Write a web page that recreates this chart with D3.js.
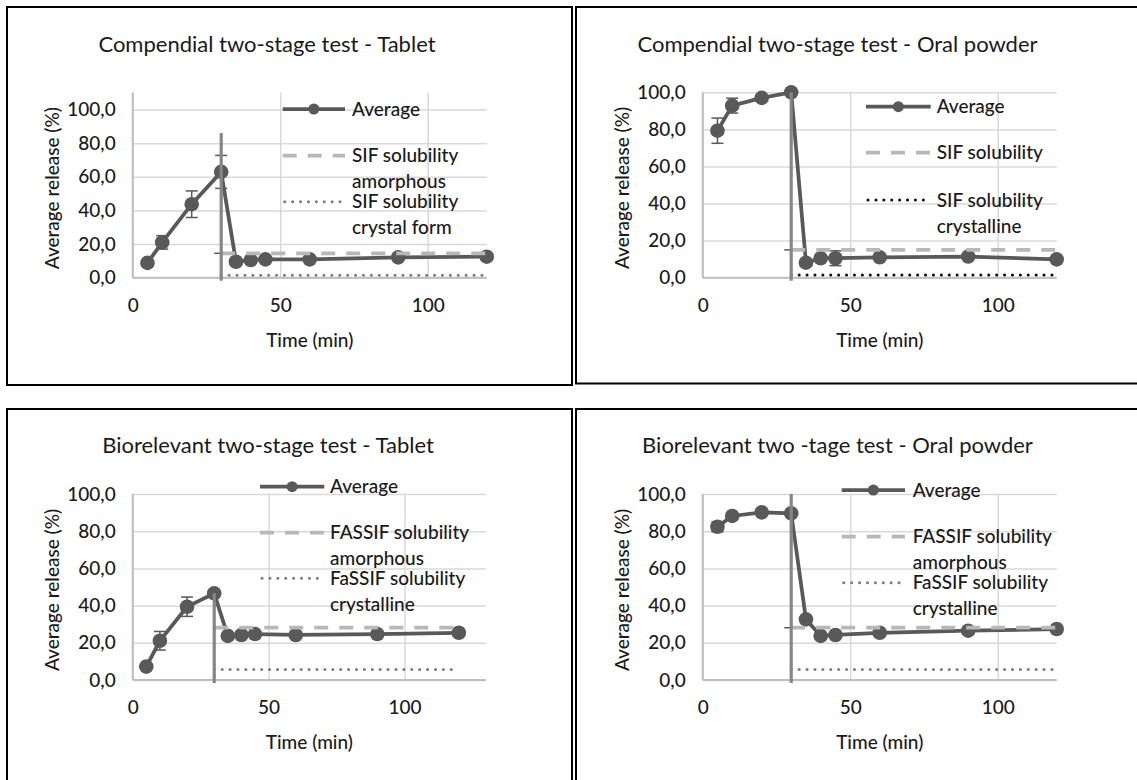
<!DOCTYPE html>
<html>
<head>
<meta charset="utf-8">
<script src="https://cdn.jsdelivr.net/npm/d3@7"></script>
<style>
  body { margin: 0; background: #fff; }
  text { font-family: Lato, "Open Sans", sans-serif; fill: #1a1a1a; font-weight: 500; }
</style>
</head>
<body>
<script>
// sampling times (min)
const times = [5, 10, 20, 30, 35, 40, 45, 60, 90, 120];

const compTabletAvg = [8.8, 21.0, 43.7, 62.9, 9.5, 10.5, 10.9, 10.9, 12.1, 12.5];
const compTabletErr = [0.8, 4.0, 7.9, 9.8, 0.8, 0.8, 0.8, 0.8, 0.8, 0.8];
const compPowderAvg = [79.3, 92.8, 97.0, 100.0, 8.1, 10.5, 10.5, 11.0, 11.4, 9.9];
const compPowderErr = [6.8, 4.0, 1.0, 0.5, 1.0, 1.0, 4.0, 1.0, 1.0, 1.0];
const bioTabletAvg = [7.2, 21.1, 39.4, 46.6, 23.7, 24.2, 24.7, 24.2, 24.7, 25.4];
const bioTabletErr = [0.8, 5.0, 5.2, 1.0, 0.8, 0.8, 0.8, 0.8, 0.8, 0.8];
const bioPowderAvg = [82.4, 88.2, 90.1, 89.6, 32.6, 23.7, 24.2, 25.4, 26.5, 27.4];
const bioPowderErr = [2.7, 1.0, 1.0, 1.0, 1.0, 1.0, 1.0, 1.0, 1.0, 1.0];

// solubility levels [amorphous, crystalline], drawn from media change to end
const solTimes = [30, 120];
const compTabletSol = [14.5, 1.5];
const compPowderSol = [15.0, 1.5];
const bioTabletSol = [28.1, 5.7];
const bioPowderSol = [28.1, 5.7];

// media change marker at 30 min, top value per chart
const mediaChange = 30;
const mediaChangeTop = [86, 100, 46.6, 100];

const titles = [
  "Compendial two-stage test - Tablet",
  "Compendial two-stage test - Oral powder",
  "Biorelevant two-stage test - Tablet",
  "Biorelevant two -tage test - Oral powder"
];
const compTabletLegend = [["Average"], ["SIF solubility", "amorphous"], ["SIF solubility", "crystal form"]];
const compPowderLegend = [["Average"], ["SIF solubility"], ["SIF solubility", "crystalline"]];
const bioLegend = [["Average"], ["FASSIF solubility", "amorphous"], ["FaSSIF solubility", "crystalline"]];

const yTicks = [0, 20, 40, 60, 80, 100];
const xTicks = [0, 50, 100];

const fmt = v => d3.format(".1f")(v).replace(".", ",");

const svg = d3.select("body").append("svg")
  .attr("width", 1137).attr("height", 780);

const panels = [
  { title: titles[0], avg: compTabletAvg, err: compTabletErr, sol: compTabletSol, top: mediaChangeTop[0],
    legend: compTabletLegend, dotColor: "#7f7f7f", cap: true,
    box: [7, 7, 572, 385], l: 132.7, r: 486.7, t: 92.7, b: 277.7, xMax: 120, yMax: 110,
    tx: 267, ty: 52, leg: { x0: 282.7, x1: 345, tx: 352, rows: [109, 155.7, 201.7] } },
  { title: titles[1], avg: compPowderAvg, err: compPowderErr, sol: compPowderSol, top: mediaChangeTop[1],
    legend: compPowderLegend, dotColor: "#111", cap: true,
    box: [576, 7, 1150, 383.5], l: 702.7, r: 1056.7, t: 92.3, b: 277.7, xMax: 120, yMax: 100,
    tx: 837.5, ty: 52, leg: { x0: 866, x1: 930.7, tx: 936.7, rows: [106.7, 152.7, 200] } },
  { title: titles[2], avg: bioTabletAvg, err: bioTabletErr, sol: bioTabletSol, top: mediaChangeTop[2],
    legend: bioLegend, dotColor: "#7f7f7f", cap: false,
    box: [7, 409, 572, 800], l: 132.7, r: 486, t: 494, b: 680, xMax: 130, yMax: 100,
    tx: 268, ty: 453.3, leg: { x0: 260, x1: 324.3, tx: 330, rows: [486.7, 532.7, 578.3] } },
  { title: titles[3], avg: bioPowderAvg, err: bioPowderErr, sol: bioPowderSol, top: mediaChangeTop[3],
    legend: bioLegend, dotColor: "#7f7f7f", cap: true,
    box: [576, 409, 1150, 800], l: 702.7, r: 1056.7, t: 494, b: 680, xMax: 120, yMax: 100,
    tx: 837.5, ty: 453.3, leg: { x0: 841.7, x1: 905, tx: 912.7, rows: [490, 536.7, 582.7] } }
];

const lineColor = "#595959";
const dashColor = "#b8b8b8";
const fs = "19px";

panels.forEach(p => {
  const g = svg.append("g");

  g.append("rect")
    .attr("x", p.box[0]).attr("y", p.box[1])
    .attr("width", p.box[2] - p.box[0]).attr("height", p.box[3] - p.box[1])
    .attr("fill", "none").attr("stroke", "#000").attr("stroke-width", 2);

  const x = d3.scaleLinear().domain([0, p.xMax]).range([p.l, p.r]);
  const y = d3.scaleLinear().domain([0, p.yMax]).range([p.b, p.t]);

  // y axis with gridlines
  const ya = g.append("g")
    .attr("transform", `translate(${p.l},0)`)
    .call(d3.axisLeft(y).tickValues(yTicks).tickFormat(fmt)
      .tickSize(-(p.r - p.l)).tickPadding(17));
  ya.select(".domain").remove();
  ya.selectAll("line").attr("stroke", "#d9d9d9").attr("stroke-width", 1.5);
  ya.selectAll("text").style("font-size", fs).attr("fill", "#1a1a1a");

  // x axis with gridlines
  const xa = g.append("g")
    .attr("transform", `translate(0,${p.b})`)
    .call(d3.axisBottom(x).tickValues(xTicks).tickFormat(d3.format("d"))
      .tickSize(-(p.b - p.t)).tickPadding(21));
  xa.select(".domain").remove();
  xa.selectAll("line").attr("stroke", "#d9d9d9").attr("stroke-width", 1.5);
  xa.selectAll("text").style("font-size", fs).attr("fill", "#1a1a1a");

  // axis lines
  g.append("line").attr("x1", p.l).attr("x2", p.r).attr("y1", y(0)).attr("y2", y(0))
    .attr("stroke", "#bfbfbf").attr("stroke-width", 2);
  g.append("line").attr("x1", x(0)).attr("x2", x(0)).attr("y1", p.t).attr("y2", p.b)
    .attr("stroke", "#bfbfbf").attr("stroke-width", 2);

  // titles
  g.append("text").attr("x", p.tx).attr("y", p.ty)
    .attr("text-anchor", "middle").style("font-size", "22px").style("font-weight", 400)
    .text(p.title);
  g.append("text").attr("x", (p.l + p.r) / 2).attr("y", p.b + 69)
    .attr("text-anchor", "middle").style("font-size", fs).text("Time (min)");
  g.append("text")
    .attr("transform", `translate(${p.l - 80},${(p.t + p.b) / 2 + 3}) rotate(-90)`)
    .attr("text-anchor", "middle").attr("dy", "0.35em")
    .style("font-size", fs).text("Average release (%)");

  const pts = times.map((t, i) => ({ t: t, v: p.avg[i], e: p.err[i] }));

  // error bars
  const eb = g.append("g").attr("stroke", lineColor).attr("stroke-width", 1.5);
  pts.forEach(d => {
    eb.append("line").attr("x1", x(d.t)).attr("x2", x(d.t))
      .attr("y1", y(d.v - d.e)).attr("y2", y(d.v + d.e));
    [d.v - d.e, d.v + d.e].forEach(v => {
      eb.append("line").attr("x1", x(d.t) - 6).attr("x2", x(d.t) + 6)
        .attr("y1", y(v)).attr("y2", y(v));
    });
  });

  // average line and markers
  g.append("path").datum(pts)
    .attr("d", d3.line().x(d => x(d.t)).y(d => y(d.v)))
    .attr("fill", "none").attr("stroke", lineColor).attr("stroke-width", 3.75);
  g.selectAll("circle.pt").data(pts).enter().append("circle")
    .attr("class", "pt")
    .attr("cx", d => x(d.t)).attr("cy", d => y(d.v)).attr("r", 7.3)
    .attr("fill", lineColor);

  // solubility lines
  if (p.cap) {
    g.append("line").attr("x1", x(mediaChange) - 7).attr("x2", x(mediaChange) + 5)
      .attr("y1", y(p.sol[0])).attr("y2", y(p.sol[0]))
      .attr("stroke", lineColor).attr("stroke-width", 1.5);
  }
  g.append("line").attr("x1", x(solTimes[0])).attr("x2", x(solTimes[1]))
    .attr("y1", y(p.sol[0])).attr("y2", y(p.sol[0]))
    .attr("stroke", dashColor).attr("stroke-width", 3.75)
    .attr("stroke-dasharray", "14,11");
  g.append("line").attr("x1", x(solTimes[0])).attr("x2", x(solTimes[1]))
    .attr("y1", y(p.sol[1])).attr("y2", y(p.sol[1]))
    .attr("stroke", p.dotColor).attr("stroke-width", 3).attr("stroke-linecap", "round")
    .attr("stroke-dasharray", "0.1,7.8");

  // media change line
  g.append("line").attr("x1", x(mediaChange)).attr("x2", x(mediaChange))
    .attr("y1", y(p.top)).attr("y2", y(0) + 3)
    .attr("stroke", "#868686").attr("stroke-width", 3.2);

  // legend
  const L = p.leg;
  const rowY = L.rows;
  g.append("line").attr("x1", L.x0).attr("x2", L.x1).attr("y1", rowY[0]).attr("y2", rowY[0])
    .attr("stroke", lineColor).attr("stroke-width", 3.75);
  g.append("circle").attr("cx", (L.x0 + L.x1) / 2).attr("cy", rowY[0]).attr("r", 5.5)
    .attr("fill", lineColor);
  g.append("line").attr("x1", L.x0).attr("x2", L.x1).attr("y1", rowY[1]).attr("y2", rowY[1])
    .attr("stroke", dashColor).attr("stroke-width", 3.75).attr("stroke-dasharray", "14,11");
  g.append("line").attr("x1", L.x0 + 2).attr("x2", L.x1).attr("y1", rowY[2]).attr("y2", rowY[2])
    .attr("stroke", p.dotColor).attr("stroke-width", 3).attr("stroke-linecap", "round")
    .attr("stroke-dasharray", "0.1,7.8");

  p.legend.forEach((lines, i) => {
    lines.forEach((s, j) => {
      g.append("text").attr("x", L.tx).attr("y", rowY[i] + j * 26)
        .attr("dy", "0.35em").style("font-size", fs).text(s);
    });
  });
});
</script>
</body>
</html>
